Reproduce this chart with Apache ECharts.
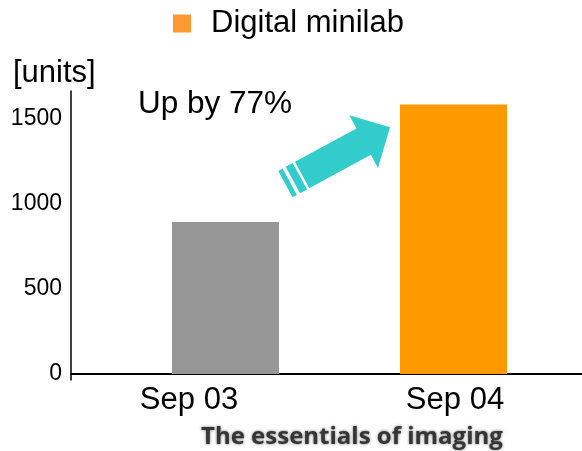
<!DOCTYPE html>
<html>
<head>
<meta charset="utf-8">
<style>
  html, body { margin: 0; padding: 0; background: #ffffff; }
  #chart { width: 582px; height: 451px; }
</style>
<script src="https://cdn.jsdelivr.net/npm/echarts@6/dist/echarts.min.js"></script>
</head>
<body>
<div id="chart"></div>
<script>
// Minilab shipments, September 2003 vs September 2004
const categories = ['Sep 03', 'Sep 04'];
const unitsShipped = [895, 1585];
const yTickValues = [0, 500, 1000, 1500];
const seriesName = 'Digital minilab';
const unitLabel = '[units]';
const growthNote = 'Up by 77%';
const footerText = 'The essentials of imaging';

const FONT = '"Liberation Sans", Arial, sans-serif';
const Y_MIN = -35;
const Y_MAX = 1665;

const chart = echarts.init(document.getElementById('chart'), null, { renderer: 'canvas' });

chart.setOption({
  animation: false,
  backgroundColor: '#ffffff',
  legend: {
    left: 173,
    top: 8,
    padding: 0,
    icon: 'rect',
    itemWidth: 18,
    itemHeight: 18,
    data: [{ name: seriesName, itemStyle: { color: '#FF9933' } }],
    textStyle: {
      fontFamily: FONT,
      fontSize: 31,
      color: '#000000',
      lineHeight: 31,
      padding: [0, 0, 0, 15]
    }
  },
  grid: [
    // frame: axis lines spanning the whole plot
    { left: 71, right: 0, top: 91, bottom: 71, containLabel: false },
    // bar band area
    { left: 111.5, right: 14.5, top: 91, bottom: 71, containLabel: false }
  ],
  xAxis: [
    {
      gridIndex: 0,
      type: 'value',
      min: 0,
      max: 1,
      axisLine: { show: true, onZero: true, lineStyle: { color: '#000000', width: 2 } },
      axisTick: { show: false },
      axisLabel: { show: false },
      splitLine: { show: false }
    },
    {
      gridIndex: 1,
      type: 'category',
      data: [
        { value: categories[0], textStyle: { padding: [0, 73, 0, 0] } },
        { value: categories[1], textStyle: { padding: [0, 0, 0, 3] } }
      ],
      axisLine: { show: false, onZero: true },
      axisTick: { show: false },
      axisLabel: {
        fontFamily: FONT,
        fontSize: 31,
        color: '#000000',
        margin: 5
      },
      splitLine: { show: false }
    }
  ],
  yAxis: [
    {
      gridIndex: 0,
      type: 'value',
      min: Y_MIN,
      max: Y_MAX,
      axisLine: { show: true, onZero: false, lineStyle: { color: '#000000', width: 1.5 } },
      axisTick: { show: false },
      splitLine: { show: false },
      axisLabel: {
        customValues: yTickValues,
        formatter: (v) => String(v),
        fontFamily: FONT,
        fontSize: 23,
        color: '#000000',
        margin: 9,
        padding: [0, 0, 6, 0]
      }
    },
    {
      gridIndex: 1,
      type: 'value',
      min: Y_MIN,
      max: Y_MAX,
      show: false
    }
  ],
  series: [
    {
      name: seriesName,
      type: 'bar',
      xAxisIndex: 1,
      yAxisIndex: 1,
      barWidth: 107,
      itemStyle: { color: '#FF9900' },
      data: [
        { value: unitsShipped[0], itemStyle: { color: '#979797' } },
        { value: unitsShipped[1] }
      ]
    }
  ],
  graphic: [
    {
      type: 'text',
      left: 13,
      top: 58,
      style: { text: unitLabel, font: '31px ' + FONT, fill: '#000000' }
    },
    {
      type: 'text',
      left: 138,
      top: 88,
      style: { text: growthNote, font: '31.5px ' + FONT, fill: '#000000' }
    },
    {
      // rising arrow with two tail stripes
      type: 'group',
      x: 285.4,
      y: 184.1,
      rotation: 0.497,
      children: [
        { type: 'polygon', shape: { points: [[0, -15], [5, -15], [5, 15], [0, 15]] }, style: { fill: '#33CCCC' } },
        { type: 'polygon', shape: { points: [[8.5, -15], [16.5, -15], [16.5, 15], [8.5, 15]] }, style: { fill: '#33CCCC' } },
        {
          type: 'polygon',
          shape: { points: [[19, -15], [89, -15], [89, -30], [119, 0], [89, 30], [89, 15], [19, 15]] },
          style: { fill: '#33CCCC' }
        }
      ]
    },
    {
      type: 'text',
      left: 201,
      top: 425,
      style: {
        text: footerText,
        font: 'bold 24px "Open Sans", "DejaVu Sans", sans-serif',
        fill: '#363636',
        textShadowColor: 'rgba(50,50,50,0.7)',
        textShadowBlur: 3
      }
    }
  ]
});
</script>
</body>
</html>
